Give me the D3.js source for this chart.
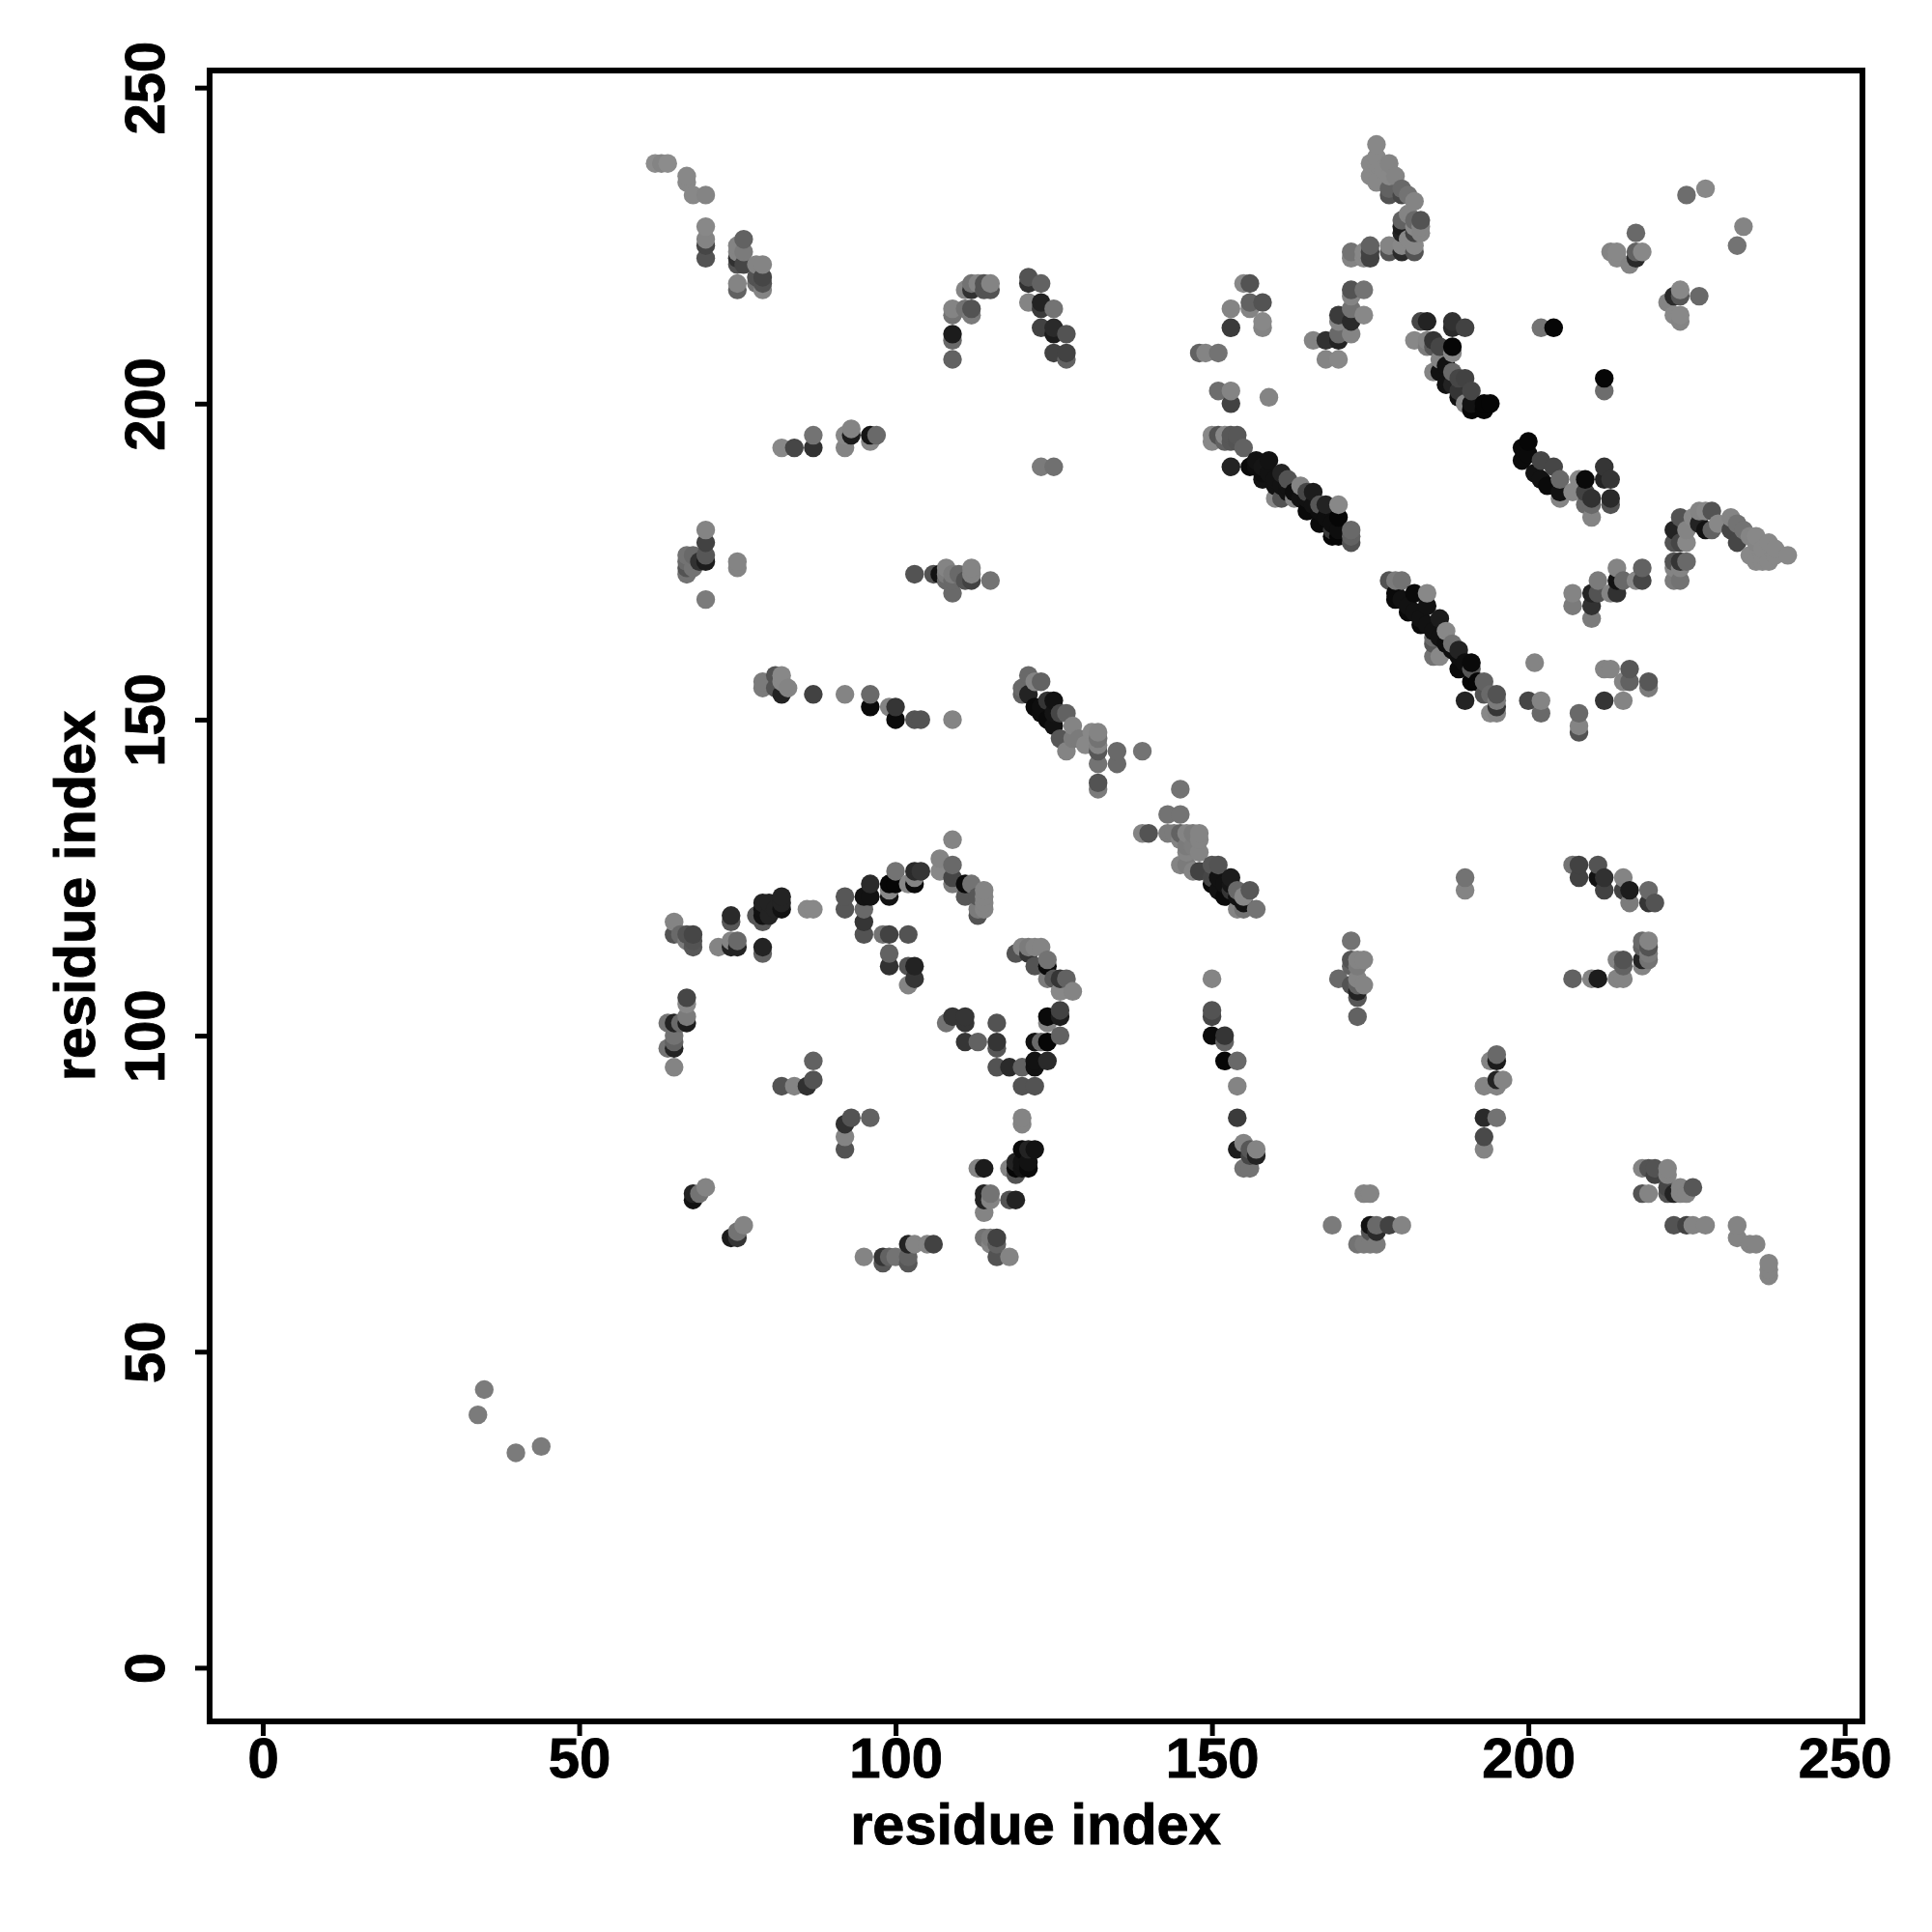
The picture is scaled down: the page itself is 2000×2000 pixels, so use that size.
<!DOCTYPE html>
<html><head><meta charset="utf-8">
<script src="https://cdn.jsdelivr.net/npm/d3@7"></script>
<style>html,body{margin:0;background:#fff}svg{display:block}text{font-family:"Liberation Sans",Arial,sans-serif;font-weight:bold;fill:#000;stroke:#000;stroke-width:.9px}</style>
</head><body><svg id="c" width="2000" height="2000"></svg>
<script>
// [residue i, residue j, contact strength 0..1]
const upperLeft=[[62,238,0],[63,238,.06],[64,238,0],[67,236,.03],[67,235,.03],[68,233,.03],[70,233,.06],[70,228,.03],[70,226,.06],[70,225,.5],[70,223,.41],
[75,225,.06],[75,224,.06],[75,223,.65],[75,222,.41],[75,219,.06],[75,218,.3],[76,226,.3],[76,224,.12],[76,222,.5],[78,222,.06],[78,220,.41],[78,219,.18],[79,222,.06],[79,220,.5],[79,219,.41],[79,218,.06],
[82,193,.03],[84,193,.5],[87,193,.65],[87,195,.18],[92,193,.06],[92,195,.03],[93,195,.8],[93,196,.06],[96,195,.85],[96,194,.03],[97,195,.25],
[109,215,.06],[109,214,.18],[109,211,.8],[109,210,.25],[109,207,.3],[111,215,.18],[112,215,.41],[112,214,.12],[111,218,.06],[112,218,.65],[112,219,.18],[113,219,.06],[114,219,.41],[114,218,.41],[115,219,.06],[115,218,.41],
[121,220,.41],[121,219,.65],[123,219,.3],[121,216,.06],[123,216,.75],[123,215,.58],[125,215,.18],[123,212,.53],[125,212,.7],[125,211,.8],[127,211,.41],[125,208,.53],[127,208,.53],[127,207,.3],[123,190,.12],[125,190,.2]];
const upperRight=[[176,241,.03],[175,238,.03],[176,238,.03],[176,239,.03],[178,238,.06],[175,236,.03],[176,235,.03],[177,237,.03],[178,236,.03],[179,236,.06],[178,233,.41],[178,234,.3],[180,234,.25],[180,233,.5],[181,233,.18],[182,232,.06],
[180,229,.3],[180,228,.8],[183,229,.41],[182,229,.25],[182,228,.03],[183,228,.06],[182,227,.53],[183,227,.06],[180,227,.75],[181,230,.06],[180,225,.03],[181,226,.03],[182,225,.03],[182,224,.41],[180,224,.7],[178,225,.06],[178,224,.41],
[175,225,.3],[175,224,.53],[175,223,.53],[174,224,.03],[174,223,.03],[172,224,.18],[172,223,.06],
[156,219,.41],[155,219,.03],[156,216,.3],[158,216,.41],[156,215,.06],[153,215,.06],[153,212,.58],[158,213,.03],[158,212,.06],[148,208,.3],[149,208,.06],[151,208,.18],[151,202,.22],[153,202,.06],[153,200,.53],[159,201,.06],
[172,218,.41],[174,218,.18],[172,217,.06],[172,215,.18],[170,214,.58],[172,213,.7],[174,214,.03],[170,213,.06],[170,211,.25],[172,211,.06],[168,210,.65],[170,210,.75],[166,210,.06],[168,207,.06],[170,207,.03],
[183,213,.5],[184,213,.75],[188,213,.65],[188,212,.7],[190,212,.53],[182,210,.03],[184,210,.06],[185,210,.62],[185,209,.38],[184,209,.12],[186,209,.5],[188,209,.96],[188,208,.03],[186,207,.06],[185,205,.06],[186,205,.87],[187,206,.87],[188,205,.25],[189,204,.5],[190,204,.53],[187,203,.87],[188,203,.75],[191,202,.5],[189,202,.62],[189,201,.87],[190,200,.03],[191,200,.87],[191,199,.96],[193,199,.96],[194,200,.96],[193,200,.96],
[228,234,.03],[225,233,.22],[234,228,.06],[233,225,.18],[217,227,.25],[213,224,.06],[214,224,.03],[214,223,.03],[217,224,.3],[218,224,.03],[217,223,.7],[216,222,.06],
[224,218,.03],[223,217,.7],[224,217,.38],[227,217,.25],[222,216,.06],[223,214,.03],[224,214,.03],[224,213,.06],[202,212,.18],[204,212,.96],[212,204,.96],[212,202,.22]];
const helixA=[[150,195,.03],[150,194,.03],[151,195,.41],[152,195,.03],[153,195,.38],[154,195,.38],[152,194,.3],[153,194,.38],[154,194,.4],[155,193,.3],[153,190,.75],[156,190,.93],[157,191,.87],[159,191,.87],[158,190,.85],
[158,188,.87],[160,187,.87],[162,186,.87],[165,183,.93],[167,181,.93],[169,179,.96],[170,179,.96],[157,190,.9],[158,189,.9],[159,189,.87],[160,188,.87],[161,187,.87],[162,187,.87],[163,186,.9],[164,185,.87],[165,185,.87],[166,184,.87],[167,183,.9],[168,182,.9],[169,181,.9],[170,180,.9],
[161,189,.75],[162,188,.41],[164,187,.06],[166,186,.8],[165,186,.5],[167,184,.38],[168,184,.75],[170,184,.03],[170,182,.96],[172,180,.25],[172,179,.3],[172,178,.41],[160,185,.03],[161,185,.41],[163,185,.06],[169,180,.6]];
const helixB=[[178,172,.41],[179,172,.12],[180,172,.18],[179,170,.93],[179,169,.93],[181,167,.93],[183,165,.93],[189,158,.93],[191,156,.96],[192,156,.96],[182,170,.93],[184,170,.03],[184,168,.87],[186,166,.8],[187,164,.03],[188,162,.18],[189,161,.75],[191,159,.93],[191,158,.38],[193,156,.3],[193,154,.41],[195,154,.41],[194,154,.25],[195,153,.12],[195,152,.62],[195,151,.06],[194,151,.03],[190,153,.75],
[180,169,.87],[181,168,.87],[182,167,.87],[183,166,.87],[184,165,.87],[185,164,.87],[186,163,.87],[187,162,.9],[188,161,.9],[189,160,.9],[190,159,.9],[185,163,.25],[185,162,.38],[185,160,.18],[186,160,.03],
[200,194,.96],[199,193,.93],[199,191,.93],[200,192,.93],[202,191,.5],[204,190,.5],[201,189,.87],[202,188,.87],[205,188,.25],[203,187,.93],[205,186,.87],[205,185,.06],[208,188,.03],[207,186,.03],[209,188,.93],[209,186,.53],[210,185,.65],[209,184,.25],[210,184,.25],[210,182,.06],[212,190,.62],[212,188,.75],[213,188,.62],[213,185,.7],[213,184,.41]];
const rightTail=[[224,182,.41],[223,180,.75],[223,178,.41],[225,180,.06],[225,178,.03],[226,182,.03],[227,183,.06],[228,183,.03],[229,183,.41],[227,181,.75],[228,180,.87],[229,180,.3],[230,181,.03],[232,182,.06],[233,181,.18],[232,180,.5],[233,178,.5],[234,180,.18],[236,179,.03],[238,178,.03],[241,176,.03],[235,176,.03],[237,176,.03],[235,179,.05],[236,178,.05],[237,177,.03],[239,177,.03],[236,175,.03],[237,175,.03],[238,175,.03],[239,176,.03],
[201,159,.06],[200,153,.5],[202,153,.06],[202,151,.25],[208,151,.25],[208,149,.06],[208,148,.41],[212,158,.06],[213,158,.06],[216,158,.38],[215,156,.06],[216,156,.3],[219,156,.38],[219,155,.12],[212,153,.62],[215,153,.06],
[207,170,.06],[207,168,.12],[210,170,.75],[210,168,.65],[210,166,.12],[211,172,.12],[211,170,.41],[213,170,.06],[214,170,.65],[214,174,.06],[214,172,.87],[215,172,.25],[217,172,.03],[218,172,.5],[218,174,.3],[223,175,.41],[223,174,.06],[224,175,.62],[225,175,.25],[224,174,.06],[223,172,.12],[224,172,.18],[224,178,.5]];
const middleLeft=[[70,180,.06],[70,178,.53],[70,176,.38],[70,175,.8],[69,175,.65],[67,176,.18],[68,176,.25],[67,175,.25],[67,174,.41],[68,174,.18],[67,173,.18],[75,175,.06],[75,174,.06],[70,169,.12],
[103,173,.41],[106,173,.41],[108,174,.06],[107,173,.87],[108,173,.12],[109,173,.12],[109,172,.25],[109,170,.25],[108,172,.25],[112,174,.06],[112,173,.06],[112,172,.53],[111,172,.41],[110,173,.25],[115,172,.18],
[79,156,.12],[79,155,.12],[81,157,.41],[82,157,.03],[82,156,.03],[81,155,.4],[82,154,.75],[83,155,.06],[87,154,.53],[92,154,.06],[96,154,.25],[96,152,.93],[99,152,.06],[100,152,.62],[100,150,.93],[103,150,.41],[104,150,.41],[109,150,.06],
[121,157,.25],[120,155,.25],[120,154,.3],[123,156,.3],[122,156,.06],[125,153,.87],[124,153,.62],[122,152,.93],[121,154,.75],[124,150,.93],[127,151,.3],[126,151,.5],[123,152,.9],[123,151,.9],[125,151,.85],[128,149,.06],[125,149,.87],[126,147,.38],[127,145,.06],[132,148,.06],[131,148,.03],[132,147,.18],[132,146,.06],[129,147,.12],[128,147,.12],[130,146,.03],[132,145,.38],[132,143,.18],[135,145,.25],[135,143,.25],[132,140,.41],[132,139,.12]];
const middleCentre=[[139,145,.18],[145,139,.18],[143,135,.18],[145,135,.18],[139,132,.06],[140,132,.41],[143,132,.12],[145,132,.3],[146,132,.06],[147,132,.12],[148,132,.06],[144,132,.12],[145,131,.06],[148,131,.06],[146,130,.12],[147,130,.1],[148,129,.06],[146,129,.06],[145,127,.06],[147,126,.06],[148,126,.53],[146,127,.12],[150,127,.38],[151,127,.41],[150,125,.5],[150,124,.93],[153,125,.8],[152,122,.93],[154,123,.25],[156,123,.38],[155,122,.03],[157,120,.18],[154,120,.06],[155,120,.18],[153,123,.62],[151,125,.87],[152,124,.87],[153,124,.85],[154,122,.87],[155,121,.87],[151,123,.87],
[172,115,.18],[172,112,.41],[173,112,.06],[174,112,.06],[172,111,.3],[173,111,.12],[170,109,.25],[172,108,.41],[173,108,.3],[174,108,.06],[173,109,.06],[173,107,.75],[173,106,.38],[173,103,.3],[190,125,.18],[190,123,.06]];
const lowerLeft=[[65,118,.06],[65,116,.41],[66,116,.25],[67,116,.41],[68,116,.5],[68,115,.41],[68,114,.38],[67,115,.12],[72,114,.06],[74,119,.7],[74,118,.38],[74,114,.75],[75,115,.25],[74,115,.06],[75,114,.75],[79,114,.75],[79,113,.3],
[78,119,.38],[79,118,.38],[79,121,.75],[79,120,.87],[79,119,.87],[80,121,.75],[80,119,.75],[82,122,.75],[82,121,.75],[82,120,.87],[81,120,.75],[86,120,.03],[87,120,.03],
[92,122,.38],[92,120,.38],[95,122,.87],[95,120,.25],[95,118,.62],[95,116,.41],[96,124,.7],[96,122,.87],[99,124,.96],[99,122,.87],[99,123,.03],[100,126,.18],[100,124,.96],[102,124,.03],[103,124,.93],[103,126,.7],[104,126,.62],[103,125,.06],
[107,128,.06],[107,126,.03],[109,131,.06],[109,127,.25],[109,125,.5],[109,124,.12],[111,124,.93],[112,124,.18],[111,122,.38],[114,123,.06],[114,122,.06],[114,121,.06],[113,122,.38],[113,120,.12],[114,120,.06],[113,119,.41],
[98,116,.18],[99,116,.53],[102,116,.41],[99,113,.3],[99,111,.65],[102,111,.41],[103,111,.75],[103,109,.62],[102,108,.06],
[119,113,.41],[120,114,.06],[122,114,.06],[123,114,.06],[121,114,.12],[121,113,.62],[122,111,.41],[124,112,.18],[124,111,.93],[124,109,.12],[125,109,.38],[126,109,.62],[127,109,.3],[126,107,.03],[128,107,.06],
[67,106,.5],[67,105,.03],[67,103,.12],[67,102,.8],[64,102,.18],[65,102,.75],[66,102,.25],[65,100,.18],[65,99,.3],[65,98,.75],[64,98,.18],[65,95,.06],[87,96,.3],[87,93,.41],[86,92,.65],[84,92,.06],[82,92,.41],
[108,102,.18],[109,103,.62],[111,103,.62],[111,102,.62],[111,99,.62],[113,99,.3],[116,102,.41],[116,99,.62],[116,98,.38],[116,95,.41],[118,95,.7],[120,95,.3],[122,96,.87],[122,95,.87],[124,96,.7],[120,92,.41],[122,92,.41],[122,99,.87],[123,99,.25],[124,99,.96],[126,100,.3],[124,102,.06],[124,103,.93],[126,103,.8],[126,104,.53]];
const lowerCentre=[[120,87,.06],[120,86,.06],[92,82,.41],[92,84,.06],[92,86,.65],[93,87,.41],[96,87,.3],[120,82,.93],[121,82,.75],[122,82,.87],[120,80,.87],[121,80,.87],[119,80,.75],[118,79,.06],[119,79,.96],[121,79,.93],[120,79,.87],[119,78,.41],[113,79,.06],[114,79,.8],[114,75,.75],[115,75,.18],[114,74,.75],[115,74,.06],[114,72,.06],[118,74,.41],[119,74,.75],
[68,75,.75],[68,74,.87],[69,75,.18],[70,76,.06],[74,68,.8],[75,68,.62],[75,69,.18],[76,70,.06],
[95,65,.06],[98,65,.62],[98,64,.38],[99,65,.3],[100,65,.18],[102,67,.75],[102,65,.3],[102,64,.38],[103,67,.06],[105,67,.06],[106,67,.53],[114,68,.18],[115,68,.12],[116,68,.53],[116,65,.41],[118,65,.06],[115,67,.06],[116,67,.3]];
const lowerRight=[[150,109,.06],[150,104,.41],[150,103,.5],[150,100,.93],[152,100,.62],[152,99,.3],[152,96,.96],[154,96,.25],[154,92,.06],[154,87,.58],[154,82,.8],[155,83,.06],[156,82,.38],[157,82,.06],[157,81,.75],[156,81,.5],[155,79,.18],[156,79,.18],
[174,75,.06],[175,75,.06],[169,70,.12],[175,70,.87],[176,70,.25],[178,70,.53],[180,70,.06],[176,69,.7],[175,69,.41],[173,67,.18],[174,67,.12],[175,67,.12],[176,67,.12],
[207,127,.18],[208,127,.53],[208,125,.53],[211,127,.41],[211,125,.87],[212,125,.65],[212,123,.53],[215,125,.06],[215,123,.53],[216,123,.8],[216,121,.12],[219,123,.25],[219,121,.62],[220,121,.41],
[218,115,.25],[219,115,.06],[218,114,.3],[219,114,.41],[219,113,.12],[219,112,.18],[218,112,.75],[218,111,.06],[214,112,.06],[215,112,.41],[215,111,.3],[207,109,.3],[210,109,.06],[211,109,.8],[214,109,.06],[215,109,.06],
[195,97,.25],[195,96,.8],[194,96,.06],[195,93,.75],[196,93,.06],[195,92,.06],[193,92,.06],[193,87,.7],[195,87,.18],[193,84,.48],[193,82,.06],
[218,79,.06],[219,79,.41],[220,79,.41],[222,79,.06],[220,78,.53],[222,78,.06],[218,75,.41],[219,75,.06],[222,76,.5],[222,75,.41],[223,75,.75],[224,76,.06],[224,75,.06],[225,75,.06],[226,76,.38],
[223,70,.41],[225,70,.53],[226,70,.06],[228,70,.06],[233,70,.06],[233,68,.06],[235,67,.06],[236,67,.06],[238,64,.06],[238,63,.06],[238,62,.06],
[34,40,.12],[35,44,.12],[40,34,.12],[44,35,.12]];
const tickValues=[0,50,100,150,200,250];
const axisTitle="residue index";

const contacts=[...upperLeft,...upperRight,...helixA,...helixB,...rightTail,...middleLeft,...middleCentre,...lowerLeft,...lowerCentre,...lowerRight]
  .sort((a,b)=>d3.ascending(a[0],b[0])||d3.ascending(a[1],b[1]));

const box={l:217,r:1928,t:73,b:1782};
const x=d3.scaleLinear().domain([-8.4,252.8]).range([box.l,box.r]);
const y=d3.scaleLinear().domain([-8.5,252.7]).range([box.b,box.t]);
const grey=d3.scaleLinear().domain([0,1]).range(["#8c8c8c","#000000"]);
const svg=d3.select("#c");
svg.append("g").selectAll("circle").data(contacts).join("circle")
  .attr("cx",d=>x(d[0])).attr("cy",d=>y(d[1])).attr("r",9.7).attr("fill",d=>grey(d[2]));
svg.append("rect").attr("x",box.l).attr("y",box.t).attr("width",box.r-box.l).attr("height",box.b-box.t)
  .attr("fill","none").attr("stroke","#000").attr("stroke-width",6);
const ax=svg.append("g").attr("transform",`translate(0,${box.b})`).call(d3.axisBottom(x).tickValues(tickValues).tickSize(15));
const ay=svg.append("g").attr("transform",`translate(${box.l},0)`).call(d3.axisLeft(y).tickValues(tickValues).tickSize(15));
[ax,ay].forEach(g=>{g.select(".domain").remove();g.selectAll("line").attr("stroke","#000").attr("stroke-width",5);
  g.selectAll("text").attr("font-size",58).style("font-family",'"Liberation Sans"').style("font-weight","bold").attr("fill","#000");});
ax.selectAll("text").attr("text-anchor","middle").attr("dy",null).attr("y",58);
ay.selectAll("text").attr("x",null).attr("dy",null).attr("text-anchor","middle")
  .attr("transform","translate(-47,0) rotate(-90)");
svg.append("text").attr("x",1072).attr("y",1909).attr("text-anchor","middle").attr("font-size",59.5).text(axisTitle);
svg.append("text").attr("transform",`translate(98,${(box.t+box.b)/2}) rotate(-90)`).attr("text-anchor","middle").attr("font-size",59.5).text(axisTitle);
</script></body></html>
